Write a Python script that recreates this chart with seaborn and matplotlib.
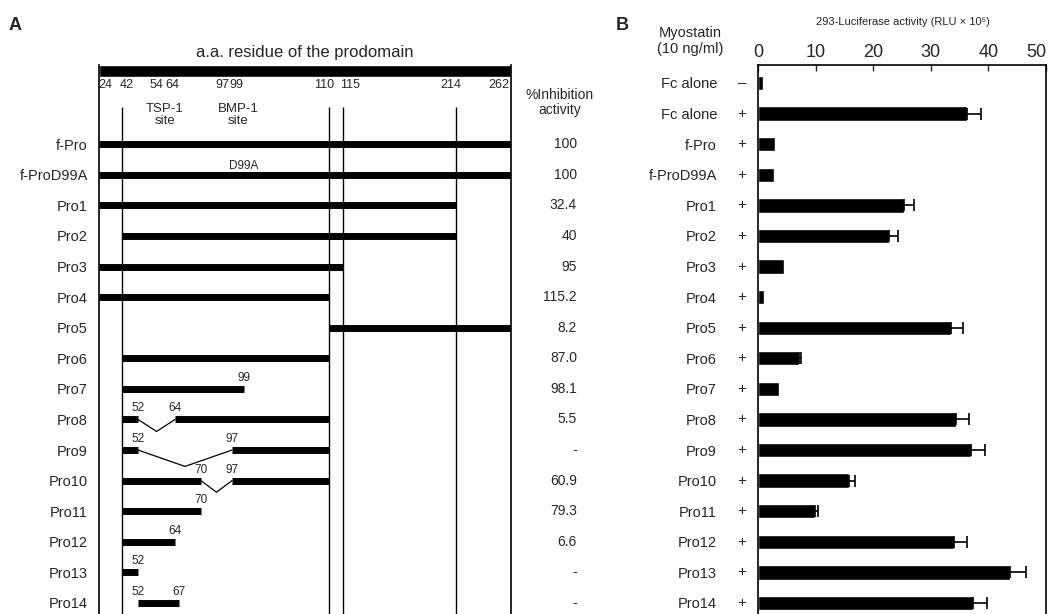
import numpy as np
import pandas as pd
import seaborn as sns
import matplotlib
matplotlib.use("Agg")
import matplotlib.pyplot as plt
from matplotlib.ticker import NullLocator
from matplotlib.transforms import blended_transform_factory

# -----------------------------
# Data
# -----------------------------
constructs = ["f-Pro", "f-ProD99A", "Pro1", "Pro2", "Pro3", "Pro4", "Pro5", "Pro6",
              "Pro7", "Pro8", "Pro9", "Pro10", "Pro11", "Pro12", "Pro13", "Pro14"]
# residue ranges kept in each construct
segments = [
    [(24, 262)], [(24, 262)], [(24, 214)], [(42, 214)], [(24, 115)], [(24, 110)],
    [(110, 262)], [(42, 110)], [(42, 99)], [(42, 52), (64, 110)], [(42, 52), (97, 110)],
    [(42, 70), (97, 110)], [(42, 70)], [(42, 64)], [(42, 52)], [(52, 67)],
]
inhibition = ["100", "100", "32.4", "40", "95", "115.2", "8.2", "87.0", "98.1",
              "5.5", "-", "60.9", "79.3", "6.6", "-", "-"]

b_names = ["Fc alone", "Fc alone"] + constructs
myostatin = ["\u2013"] + ["+"] * 17
luc = [0.8, 36.3, 2.9, 2.8, 25.3, 22.7, 4.5, 1.0, 33.5, 7.1, 3.6,
       34.4, 37.0, 15.8, 9.9, 34.0, 43.7, 37.4]
luc_err = [0, 2.4, 0, 0, 1.8, 1.6, 0, 0, 2.1, 0.4, 0,
           2.2, 2.4, 1.0, 0.5, 2.2, 2.9, 2.4]

guide_res = [42, 110, 115, 214]
header_res = [24, 42, 54, 64, 97, 99, 110, 115, 214, 262]

# schematic (not to scale) residue axis: residue -> fraction of the box width
scheme_res = [24, 42, 52, 54, 64, 67, 70, 97, 99, 110, 115, 214, 262]
scheme_pos = [0, 0.0558, 0.0947, 0.1359, 0.1845, 0.1942, 0.2476, 0.3228,
              0.3519, 0.5583, 0.5922, 0.8665, 1.0]
# pixel nudges of the header numbers so they don't collide
header_dx = {24: 6, 42: 5, 54: 1, 64: -3, 97: -10, 99: -8, 110: -5, 115: 7, 214: -5, 262: -12}


def fwd(x):
    return np.interp(x, scheme_res, scheme_pos)


def inv(x):
    return np.interp(x, scheme_pos, scheme_res)


# -----------------------------
# Style
# -----------------------------
sns.set_style("white")
plt.rcParams['font.family'] = ['Liberation Sans', 'DejaVu Sans']

W, H = 1053, 614
fig = plt.figure(figsize=(W / 100, H / 100), dpi=100)

ylim = (17.36, -0.588)
axA = fig.add_axes([99 / W, 0, 412 / W, 549 / H])
axB = fig.add_axes([758 / W, 0, 288 / W, 549 / H])

# -----------------------------
# Panel A: construct map
# -----------------------------
axA.set_xscale('function', functions=(fwd, inv))
axA.set_xlim(24, 262)
axA.set_ylim(*ylim)
axA.xaxis.set_major_locator(NullLocator())
axA.xaxis.set_minor_locator(NullLocator())

# prodomain header bar
axA.barh(-0.394, 262 - 24, left=24, height=0.388, color="black")
axA.vlines(guide_res, 0.78, ylim[0], color="black", lw=1.0)

rows_a = np.arange(len(constructs)) + 2
for r, segs in zip(rows_a, segments):
    for s, e in segs:
        axA.hlines(r, s, e, color="black", lw=5, zorder=3)
    # deletion joins
    for (s1, e1), (s2, e2) in zip(segs[:-1], segs[1:]):
        gap = (fwd(s2) - fwd(e1)) * 412
        mid = inv((fwd(e1) + fwd(s2)) / 2)
        dip = 0.3 + 0.0025 * gap
        axA.plot([e1, mid, s2], [r, r + dip, r], color="black", lw=0.9)
    # residue numbers at internal ends
    for s, e in segs:
        for res in (s, e):
            if res not in guide_res and res not in (24, 262):
                axA.text(res, r - 0.36, str(res), ha="center", va="center", fontsize=8.5)

axA.text(99, 3 - 0.27, "D99A", ha="center", va="center", fontsize=8.5, zorder=1)

for res in header_res:
    axA.annotate(str(res), xy=(res, 0.07), xytext=(header_dx[res], 0),
                 textcoords="offset pixels", ha="center", va="center", fontsize=9)
axA.text(59, 1.05, "TSP-1\nsite", ha="center", va="center", fontsize=9.5, linespacing=1.0)
axA.text(98, 1.05, "BMP-1\nsite", ha="center", va="center", fontsize=9.5, linespacing=1.0)

blendA = blended_transform_factory(axA.transAxes, axA.transData)
axA.text(0.5, -1.01, "a.a. residue of the prodomain", transform=blendA,
         ha="center", va="center", fontsize=12)
axA.text(1.119, 0.64, "%Inhibition\nactivity", transform=blendA, ha="center", va="center",
         fontsize=10, linespacing=1.1)
for r, v in zip(rows_a, inhibition):
    axA.text(1.160, r, v, transform=blendA, ha="right", va="center", fontsize=10)

axA.set_yticks(rows_a)
axA.set_yticklabels(constructs, fontsize=10.5)
axA.tick_params(axis="y", length=0, pad=8)
for side in ["top", "bottom"]:
    axA.spines[side].set_visible(False)
for side in ["left", "right"]:
    axA.spines[side].set_linewidth(1.2)
    axA.spines[side].set_color("black")

# -----------------------------
# Panel B: luciferase activity
# -----------------------------
df = pd.DataFrame({"key": [f"{n} {s}" for n, s in zip(b_names, myostatin)], "value": luc})
sns.barplot(data=df, x="value", y="key", orient="h", color="black", saturation=1,
            width=0.47, errorbar=None, ax=axB)

rows_b = np.arange(len(b_names))
vals = np.array(luc)
errs = np.array(luc_err)
m = errs > 0
axB.errorbar(vals[m], rows_b[m], xerr=[np.zeros(m.sum()), errs[m]], fmt="none",
             ecolor="black", elinewidth=1.2, capsize=4.5, capthick=1.2)

axB.set_xlim(0, 50)
axB.set_ylim(*ylim)
axB.set_xlabel("")
axB.set_ylabel("")
axB.xaxis.tick_top()
axB.set_xticks(range(0, 51, 10))
axB.tick_params(axis="x", direction="in", length=4, width=1, pad=3, labelsize=13,
                top=True, bottom=False)
axB.get_xticklabels()[-1].set_ha("right")
axB.set_yticks(rows_b)
axB.set_yticklabels(b_names, fontsize=10.5)
axB.tick_params(axis="y", length=0, pad=29.5)
axB.spines["bottom"].set_visible(False)
for side in ["left", "right", "top"]:
    axB.spines[side].set_linewidth(1.2)
    axB.spines[side].set_color("black")

blendB = blended_transform_factory(axB.transAxes, axB.transData)
for r, s in zip(rows_b, myostatin):
    axB.text(-0.0556, r, s, transform=blendB, ha="center", va="center", fontsize=11)
axB.text(-0.236, -1.37, "Myostatin\n(10 ng/ml)", transform=blendB, ha="center", va="center",
         fontsize=10.5, linespacing=1.2)
axB.text(0.503, -1.99, "293-Luciferase activity (RLU \u00d7 10\u2075)", transform=blendB,
         ha="center", va="center", fontsize=8)

fig.text(15 / W, 1 - 25 / H, "A", ha="center", va="center", fontsize=13, fontweight="bold")
fig.text(622 / W, 1 - 25 / H, "B", ha="center", va="center", fontsize=13, fontweight="bold")

fig.savefig("out.png", dpi=100)
